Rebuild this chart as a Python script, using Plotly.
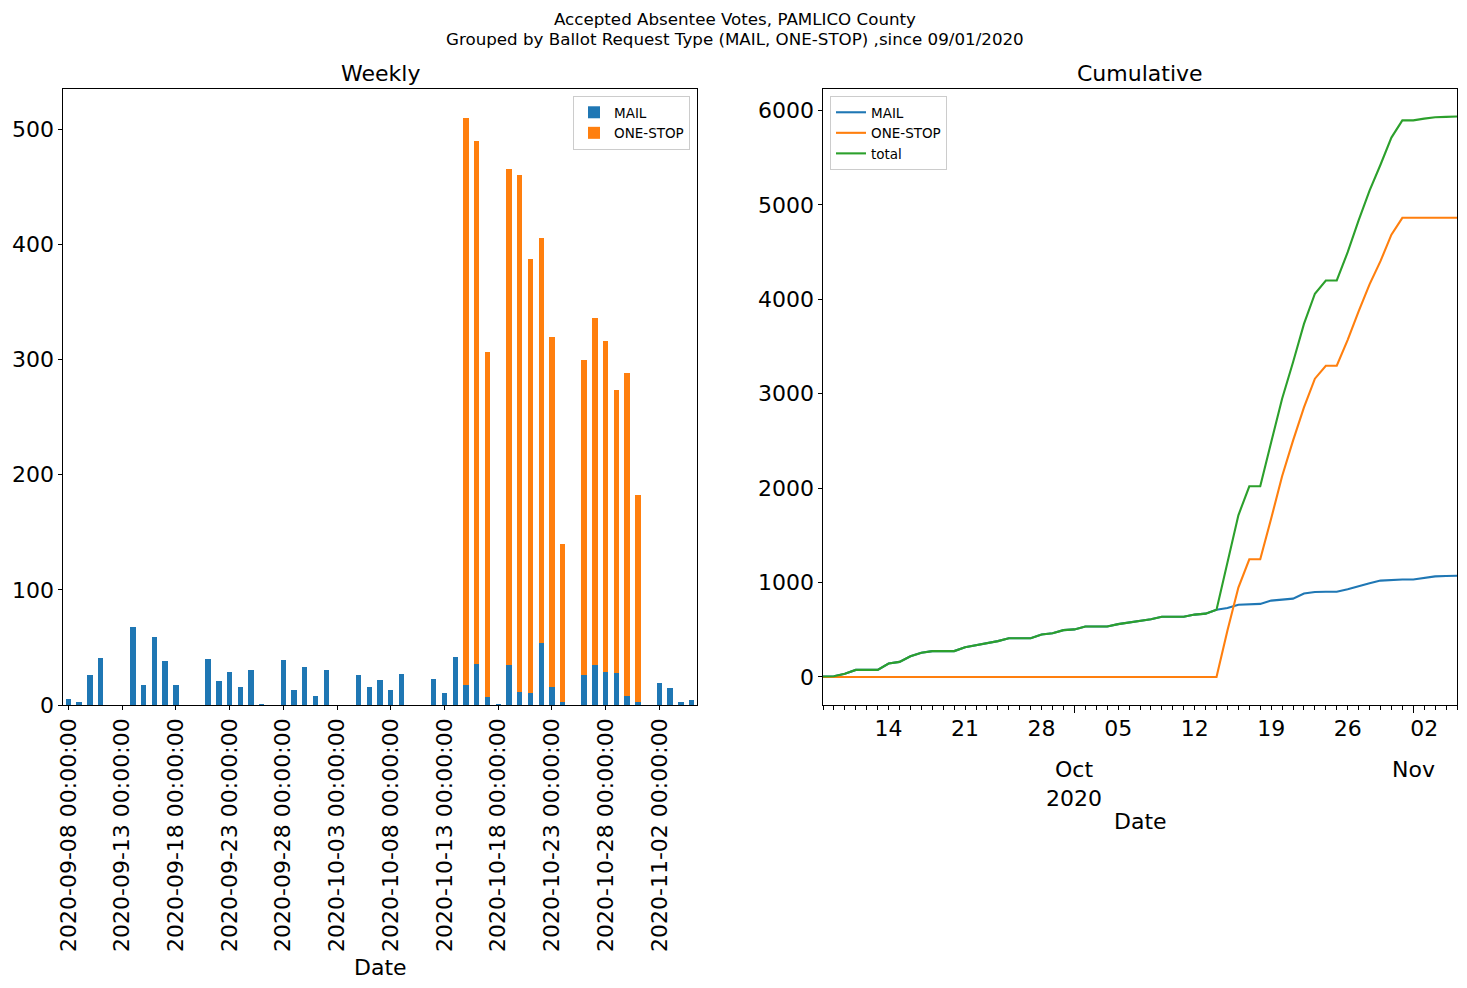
import numpy as np
import pandas as pd
import plotly.graph_objects as go

# ---------------- data ----------------
start_date = "2020-09-08"
end_date = "2020-11-05"
dates = pd.date_range(start_date, end_date, freq="D")
categories = [d.strftime("%Y-%m-%d 00:00:00") for d in dates]
date_strs = [d.strftime("%Y-%m-%d") for d in dates]

mail = [5, 3, 26, 41, 0, 0, 68, 17, 59, 38, 17, 0, 0, 40, 21, 29, 16, 30, 1, 0,
        39, 13, 33, 8, 30, 0, 0, 26, 16, 22, 13, 27, 0, 0, 23, 10, 42, 17, 36, 7,
        1, 35, 11, 10, 54, 16, 3, 0, 26, 35, 29, 28, 8, 3, 0, 19, 15, 3, 4]
one_stop = [0] * 37 + [493, 454, 300, 0, 431, 449, 377, 352, 304, 137, 0,
                       274, 301, 287, 246, 280, 179, 0, 0, 0, 0, 0]

left_tick_labels = categories[::5]
week_days = ["2020-09-14", "2020-09-21", "2020-09-28", "2020-10-05",
             "2020-10-12", "2020-10-19", "2020-10-26", "2020-11-02"]
month_starts = ["2020-10-01", "2020-11-01"]
month_labels = ["Oct<br>2020", "Nov"]
left_yticks = [0, 100, 200, 300, 400, 500]
right_yticks = [0, 1000, 2000, 3000, 4000, 5000, 6000]

cum_mail = np.cumsum(mail)
cum_one = np.cumsum(one_stop)
cum_total = cum_mail + cum_one

# ---------------- layout helpers ----------------
W, H = 1467, 988
def px_x(v):
    return v / W
def px_y(v):
    return 1 - v / H

FONT = "DejaVu Sans"
BLUE, ORANGE, GREEN = "#1f77b4", "#ff7f0e", "#2ca02c"
TICK = 22
LW = 1.1

fig = go.Figure()
fig.add_trace(go.Bar(x=categories, y=mail, name="MAIL", marker=dict(color=BLUE, line=dict(width=0)),
                     xaxis="x", yaxis="y", legend="legend"))
fig.add_trace(go.Bar(x=categories, y=one_stop, name="ONE-STOP", marker=dict(color=ORANGE, line=dict(width=0)),
                     xaxis="x", yaxis="y", legend="legend"))

fig.add_trace(go.Scatter(x=date_strs, y=cum_mail, name="MAIL", mode="lines",
                         line=dict(color=BLUE, width=2.1), xaxis="x2", yaxis="y2", legend="legend2"))
fig.add_trace(go.Scatter(x=date_strs, y=cum_one, name="ONE-STOP", mode="lines",
                         line=dict(color=ORANGE, width=2.1), xaxis="x2", yaxis="y2", legend="legend2"))
fig.add_trace(go.Scatter(x=date_strs, y=cum_total, name="total", mode="lines",
                         line=dict(color=GREEN, width=2.1), xaxis="x2", yaxis="y2", legend="legend2"))
# empty trace to host the overlay axis used for long month ticks
fig.add_trace(go.Scatter(x=[], y=[], xaxis="x3", yaxis="y2", showlegend=False, hoverinfo="skip"))

ymax_r = float(cum_total.max())
ymin_r = 0.0
pad_r = 0.05 * (ymax_r - ymin_r)

common_axis = dict(showline=True, mirror=True, linecolor="black", linewidth=LW,
                   ticks="outside", ticklen=3.5, tickwidth=LW, tickcolor="black",
                   showgrid=False, zeroline=False, automargin=False,
                   tickfont=dict(family=FONT, size=TICK, color="black"))

dom_left = [px_x(63), px_x(697)]
dom_right = [px_x(823), px_x(1457)]
dom_y = [px_y(705), px_y(88.5)]

right_ticktext = []
for d in dates:
    s = d.strftime("%Y-%m-%d")
    right_ticktext.append(d.strftime("%d") if s in week_days else "")

fig.update_layout(
    width=W, height=H, autosize=False,
    margin=dict(l=0, r=0, t=0, b=0, pad=0),
    paper_bgcolor="white", plot_bgcolor="white",
    template="none",
    font=dict(family=FONT, color="black"),
    barmode="stack", bargap=0.5,
    xaxis=dict(domain=dom_left, anchor="y", type="category", range=[-0.5, len(categories) - 0.5],
               tickmode="array", tickvals=left_tick_labels, ticktext=left_tick_labels,
               tickangle=-90, **common_axis),
    yaxis=dict(domain=dom_y, anchor="x", range=[0, max(np.array(mail) + np.array(one_stop)) * 1.05],
               tickmode="array", tickvals=left_yticks, **common_axis),
    xaxis2=dict(domain=dom_right, anchor="y2", type="date", range=[date_strs[0], date_strs[-1]],
                tickmode="array", tickvals=date_strs, ticktext=right_ticktext, tickangle=0,
                **common_axis),
    xaxis3=dict(overlaying="x2", anchor="y2", type="date", range=[date_strs[0], date_strs[-1]],
                tickmode="array", tickvals=month_starts, ticktext=["", ""], showticklabels=False,
                ticks="outside", ticklen=7, tickwidth=LW, tickcolor="black",
                showline=False, showgrid=False, zeroline=False, automargin=False),
    yaxis2=dict(domain=dom_y, anchor="x2", range=[ymin_r - pad_r, ymax_r + pad_r],
                tickmode="array", tickvals=right_yticks, **common_axis),
    legend=dict(x=px_x(690), y=px_y(96), xanchor="right", yanchor="top",
                bgcolor="rgba(255,255,255,0.8)", bordercolor="#cccccc", borderwidth=1,
                font=dict(family=FONT, size=13.5, color="black"), traceorder="normal"),
    legend2=dict(x=px_x(830), y=px_y(96), xanchor="left", yanchor="top",
                 bgcolor="rgba(255,255,255,0.8)", bordercolor="#cccccc", borderwidth=1,
                 font=dict(family=FONT, size=13.5, color="black"), traceorder="normal"),
    showlegend=True,
)

ann = []
def add_text(text, x, y, size, xref="paper", yref="paper", yanchor="middle"):
    ann.append(dict(text=text, x=x, y=y, xref=xref, yref=yref, showarrow=False,
                    xanchor="center", yanchor=yanchor,
                    font=dict(family=FONT, size=size, color="black")))

add_text("Accepted Absentee Votes, PAMLICO County", px_x(735), px_y(19), 16.7)
add_text("Grouped by Ballot Request Type (MAIL, ONE-STOP) ,since 09/01/2020", px_x(735), px_y(39), 16.7)
add_text("Weekly", (dom_left[0] + dom_left[1]) / 2, px_y(74), 22)
add_text("Cumulative", (dom_right[0] + dom_right[1]) / 2, px_y(74), 22)
add_text("Date", (dom_left[0] + dom_left[1]) / 2, px_y(967), 22)
add_text("Date", (dom_right[0] + dom_right[1]) / 2, px_y(821), 22)
for ms, lab in zip(month_starts, month_labels):
    add_text(lab, ms, px_y(755), 22, xref="x2", yanchor="top")

fig.update_layout(annotations=ann)
fig.write_html("out.html")
